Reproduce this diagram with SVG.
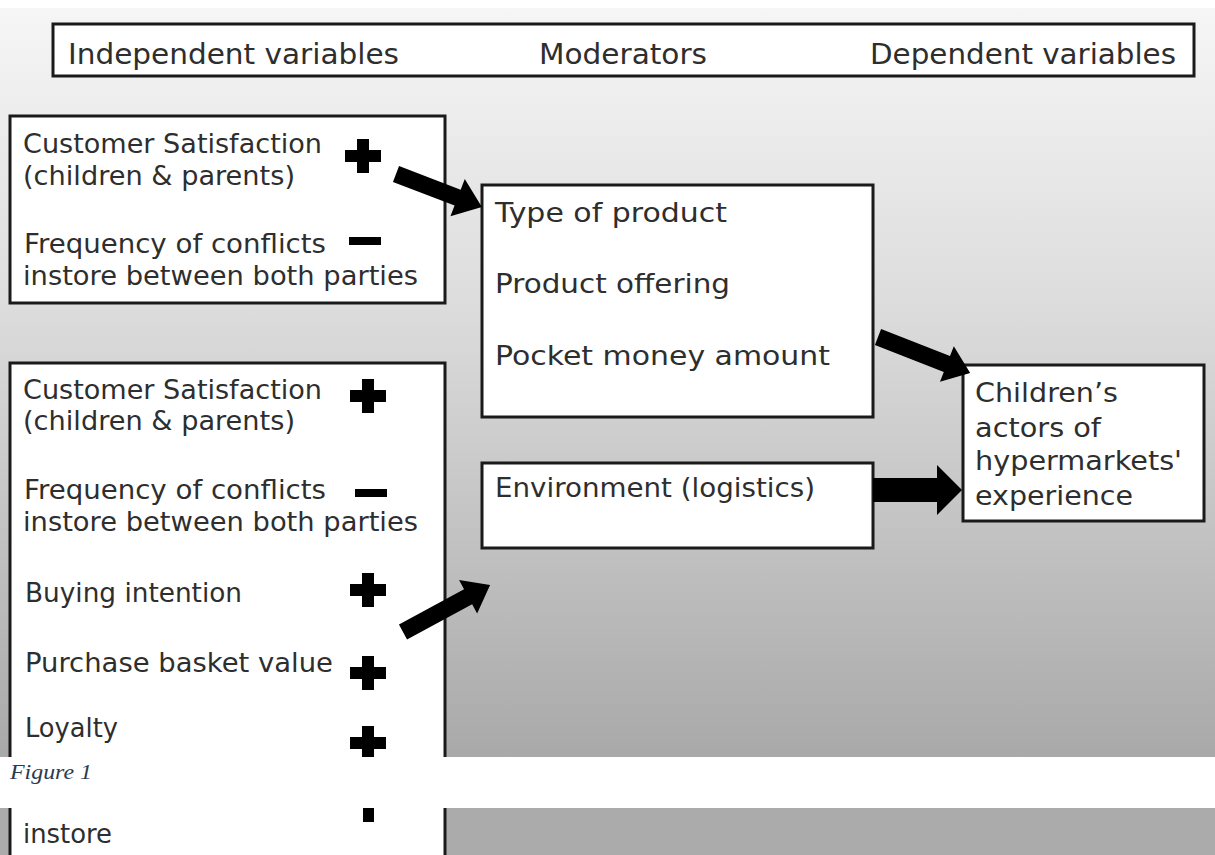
<svg xmlns="http://www.w3.org/2000/svg" width="1215" height="855" viewBox="0 0 1215 855">
<style>
.box{fill:#fff;stroke:#1a1a1a;stroke-width:3}
.t{font-family:"DejaVu Sans","Liberation Sans",sans-serif;font-size:26px;fill:#2e2e2e}
.h{font-family:"DejaVu Sans Condensed","DejaVu Sans",sans-serif;font-size:29px;fill:#2e2e2e}
.arrow{fill:#000}
.sign{fill:#000}
.cap{font-family:"Liberation Serif",serif;font-style:italic;font-size:22px;fill:#2a3a52}
</style>
<defs>
<linearGradient id="bg" x1="0" y1="8" x2="0" y2="757" gradientUnits="userSpaceOnUse">
<stop offset="0" stop-color="#f6f6f6"/>
<stop offset="0.4" stop-color="#dcdcdc"/>
<stop offset="1" stop-color="#a9a9a9"/>
</linearGradient>
<clipPath id="topClip"><rect x="0" y="8" width="1215" height="749"/></clipPath>
<clipPath id="botClip"><rect x="0" y="808" width="1215" height="47"/></clipPath>
<path id="plus" d="M-6,-17h12v11h12v12h-12v11h-12v-11h-12v-12h12z"/>
<rect id="minus" x="-16" y="-4" width="32" height="8"/>
</defs>
<rect x="0" y="0" width="1215" height="855" fill="#fff"/>
<g clip-path="url(#topClip)">
<rect x="0" y="8" width="1215" height="749" fill="url(#bg)"/>
<g id="header">
<rect class="box" x="53" y="24" width="1141" height="52"/>
<text class="h" x="68" y="64" textLength="331" lengthAdjust="spacingAndGlyphs">Independent variables</text>
<text class="h" x="539" y="64" textLength="168" lengthAdjust="spacingAndGlyphs">Moderators</text>
<text class="h" x="870" y="64" textLength="306" lengthAdjust="spacingAndGlyphs">Dependent variables</text>
</g>
<g id="iv1">
<rect class="box" x="10" y="116" width="435" height="187"/>
<text class="t" x="23" y="153" textLength="299" lengthAdjust="spacingAndGlyphs">Customer Satisfaction</text>
<text class="t" x="23" y="185" textLength="272" lengthAdjust="spacingAndGlyphs">(children &amp; parents)</text>
<text class="t" x="24" y="253" textLength="302" lengthAdjust="spacingAndGlyphs">Frequency of conflicts</text>
<text class="t" x="23" y="285" textLength="395" lengthAdjust="spacingAndGlyphs">instore between both parties</text>
<use class="sign" href="#plus" x="363" y="156"/>
<use class="sign" href="#minus" x="365" y="241"/>
</g>
<g id="iv2">
<rect class="box" x="10" y="363" width="435" height="460"/>
<text class="t" x="23" y="399" textLength="299" lengthAdjust="spacingAndGlyphs">Customer Satisfaction</text>
<text class="t" x="23" y="430" textLength="272" lengthAdjust="spacingAndGlyphs">(children &amp; parents)</text>
<text class="t" x="24" y="499" textLength="302" lengthAdjust="spacingAndGlyphs">Frequency of conflicts</text>
<text class="t" x="23" y="531" textLength="395" lengthAdjust="spacingAndGlyphs">instore between both parties</text>
<text class="t" x="25" y="602" textLength="217" lengthAdjust="spacingAndGlyphs">Buying intention</text>
<text class="t" x="25" y="672" textLength="308" lengthAdjust="spacingAndGlyphs">Purchase basket value</text>
<text class="t" x="25" y="737" textLength="93" lengthAdjust="spacingAndGlyphs">Loyalty</text>
<use class="sign" href="#plus" x="368" y="396"/>
<use class="sign" href="#minus" x="371" y="493"/>
<use class="sign" href="#plus" x="368" y="590"/>
<use class="sign" href="#plus" x="368" y="673"/>
<use class="sign" href="#plus" x="368" y="743"/>
</g>
<g id="moderators">
<rect class="box" x="482" y="185" width="391" height="232"/>
<text class="t" x="495" y="222" textLength="232" lengthAdjust="spacingAndGlyphs">Type of product</text>
<text class="t" x="495" y="293" textLength="235" lengthAdjust="spacingAndGlyphs">Product offering</text>
<text class="t" x="495" y="365" textLength="335" lengthAdjust="spacingAndGlyphs">Pocket money amount</text>
</g>
<g id="environment">
<rect class="box" x="482" y="463" width="391" height="85"/>
<text class="t" x="495" y="497" textLength="320" lengthAdjust="spacingAndGlyphs">Environment (logistics)</text>
</g>
<g id="dependent">
<rect class="box" x="963" y="365" width="241" height="156"/>
<text class="t" x="975" y="402" textLength="143" lengthAdjust="spacingAndGlyphs">Children’s</text>
<text class="t" x="975" y="437" textLength="126" lengthAdjust="spacingAndGlyphs">actors of</text>
<text class="t" x="975" y="470" textLength="207" lengthAdjust="spacingAndGlyphs">hypermarkets'</text>
<text class="t" x="975" y="505" textLength="158" lengthAdjust="spacingAndGlyphs">experience</text>
</g>
<g id="connectors">
<polygon class="arrow" transform="translate(396,174) rotate(21)" points="0,-8.5 66,-8.5 66,-20 92,0 66,20 66,8.5 0,8.5"/>
<polygon class="arrow" transform="translate(878,337) rotate(21.4)" points="0,-8.5 74,-8.5 74,-19 99,0 74,19 74,8.5 0,8.5"/>
<polygon class="arrow" points="873,478 937,478 937,465 962,490 937,515 937,502 873,502"/>
<polygon class="arrow" transform="translate(403,632) rotate(-28.4)" points="0,-8.5 74,-8.5 74,-19 99,0 74,19 74,8.5 0,8.5"/>
</g>
</g>
<text class="cap" x="10" y="779" textLength="82" lengthAdjust="spacingAndGlyphs">Figure 1</text>
<g clip-path="url(#botClip)">
<rect x="0" y="808" width="1215" height="47" fill="#ababab"/>
<g id="iv2-continued">
<rect x="10" y="800" width="435" height="70" fill="#fff"/>
<line x1="10" y1="800" x2="10" y2="870" stroke="#1a1a1a" stroke-width="3"/>
<line x1="445" y1="800" x2="445" y2="870" stroke="#1a1a1a" stroke-width="3"/>
<rect class="sign" x="363" y="806" width="11" height="16"/>
<text class="t" x="23" y="843" textLength="89" lengthAdjust="spacingAndGlyphs">instore</text>
</g>
</g>
</svg>
